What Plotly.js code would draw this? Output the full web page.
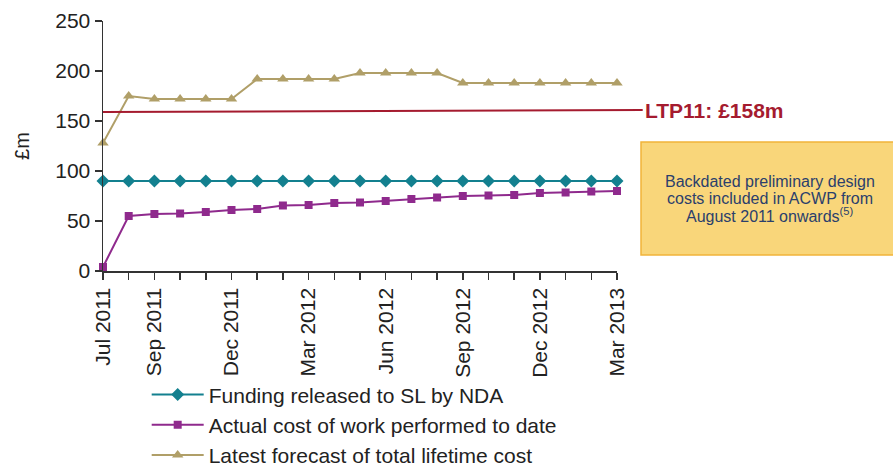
<!DOCTYPE html>
<html>
<head>
<meta charset="utf-8">
<script src="https://cdn.plot.ly/plotly-3.0.1.min.js"></script>
<style>html,body{margin:0;padding:0;background:#fff;}#chart{width:893px;height:466px;}</style>
</head>
<body>
<div id="chart"></div>
<script>
const months = ["Jul 2011","Aug 2011","Sep 2011","Oct 2011","Nov 2011","Dec 2011","Jan 2012","Feb 2012","Mar 2012","Apr 2012","May 2012","Jun 2012","Jul 2012","Aug 2012","Sep 2012","Oct 2012","Nov 2012","Dec 2012","Jan 2013","Feb 2013","Mar 2013"];
const tickLabels = ["Jul 2011","","Sep 2011","","","Dec 2011","","","Mar 2012","","","Jun 2012","","","Sep 2012","","","Dec 2012","","","Mar 2013"];
const funding = [90,90,90,90,90,90,90,90,90,90,90,90,90,90,90,90,90,90,90,90,90];
const actualCost = [4,55,57,57.5,59,61,62,65.5,66,68,68.5,70,72,73.5,75,75.5,76,78,78.5,79.5,80];
const forecast = [128,175,172,172,172,172,192,192,192,192,198,198,198,198,188,188,188,188,188,188,188];
const ltp11 = {label: "LTP11: £158m", yStart: 159, yEnd: 161};
const seriesNames = ["Funding released to SL by NDA","Actual cost of work performed to date","Latest forecast of total lifetime cost"];
const noteLines = ["Backdated preliminary design","costs included in ACWP from","August 2011 onwards<sup>(5)</sup>"];

const FONT = "Liberation Sans, Arial, sans-serif";
const traces = [
  {x: months, y: funding, name: seriesNames[0], type: "scatter", mode: "lines+markers", cliponaxis: false,
   line: {color: "#13808f", width: 2}, marker: {symbol: "diamond", size: 10, color: "#13808f"}},
  {x: months, y: actualCost, name: seriesNames[1], type: "scatter", mode: "lines+markers", cliponaxis: false,
   line: {color: "#8f2a8d", width: 2}, marker: {symbol: "square", size: 8, color: "#8f2a8d"}},
  {x: months, y: forecast, name: seriesNames[2], type: "scatter", mode: "lines+markers", cliponaxis: false,
   line: {color: "#b09f68", width: 2}, marker: {symbol: "triangle-up", size: 10, color: "#b09f68"}}
];

const noteY = [0.357, 0.291, 0.224];
const annotations = [
  {xref: "paper", yref: "y", x: 1.05, y: ltp11.yEnd, xanchor: "left", yanchor: "middle", showarrow: false,
   text: "<b>" + ltp11.label + "</b>", font: {family: FONT, size: 21, color: "#a51b2f"}}
].concat(noteLines.map((t, i) => ({
  xref: "paper", yref: "paper", x: 1.2977, y: noteY[i], xanchor: "center", yanchor: "middle", showarrow: false,
  text: t, font: {family: FONT, size: 16, color: "#2b3f6c"}
})));

const layout = {
  width: 893, height: 466,
  margin: {l: 103, r: 276, t: 21, b: 195, autoexpand: false},
  paper_bgcolor: "#fff", plot_bgcolor: "#fff",
  font: {family: FONT, size: 21, color: "#222"},
  showlegend: true,
  legend: {x: 0.085, y: -0.413, xanchor: "left", yanchor: "top", font: {family: FONT, size: 21, color: "#222"},
           bgcolor: "rgba(0,0,0,0)", tracegroupgap: 0, itemwidth: 52},
  xaxis: {type: "category", range: [0, 20], tickmode: "array", tickvals: months, ticktext: tickLabels,
          tickangle: -90, ticks: "outside", ticklen: 7, tickwidth: 1.5, tickcolor: "#333",
          showline: true, linecolor: "#333", linewidth: 1.5, showgrid: false, zeroline: false,
          tickfont: {family: FONT, size: 21, color: "#222"}},
  yaxis: {range: [0, 250], tickvals: [0,50,100,150,200,250], ticks: "outside", ticklen: 7, tickwidth: 1.5, tickcolor: "#333",
          showline: true, linecolor: "#333", linewidth: 1.5, showgrid: false, zeroline: false,
          tickfont: {family: FONT, size: 21, color: "#222"},
          title: {text: "£m", standoff: 20, font: {family: FONT, size: 20, color: "#222"}}},
  shapes: [
    {type: "line", xref: "paper", yref: "y", x0: 0, x1: 1.05, y0: ltp11.yStart, y1: ltp11.yEnd,
     line: {color: "#a51b2f", width: 2}},
    {type: "rect", xref: "paper", yref: "paper", x0: 1.0467, x1: 1.56, y0: 0.064, y1: 0.516,
     fillcolor: "#f9d67a", line: {color: "#f1b43a", width: 1.5}, layer: "below"}
  ],
  annotations: annotations
};
Plotly.newPlot("chart", traces, layout, {displayModeBar: false, staticPlot: true});
</script>
</body>
</html>
